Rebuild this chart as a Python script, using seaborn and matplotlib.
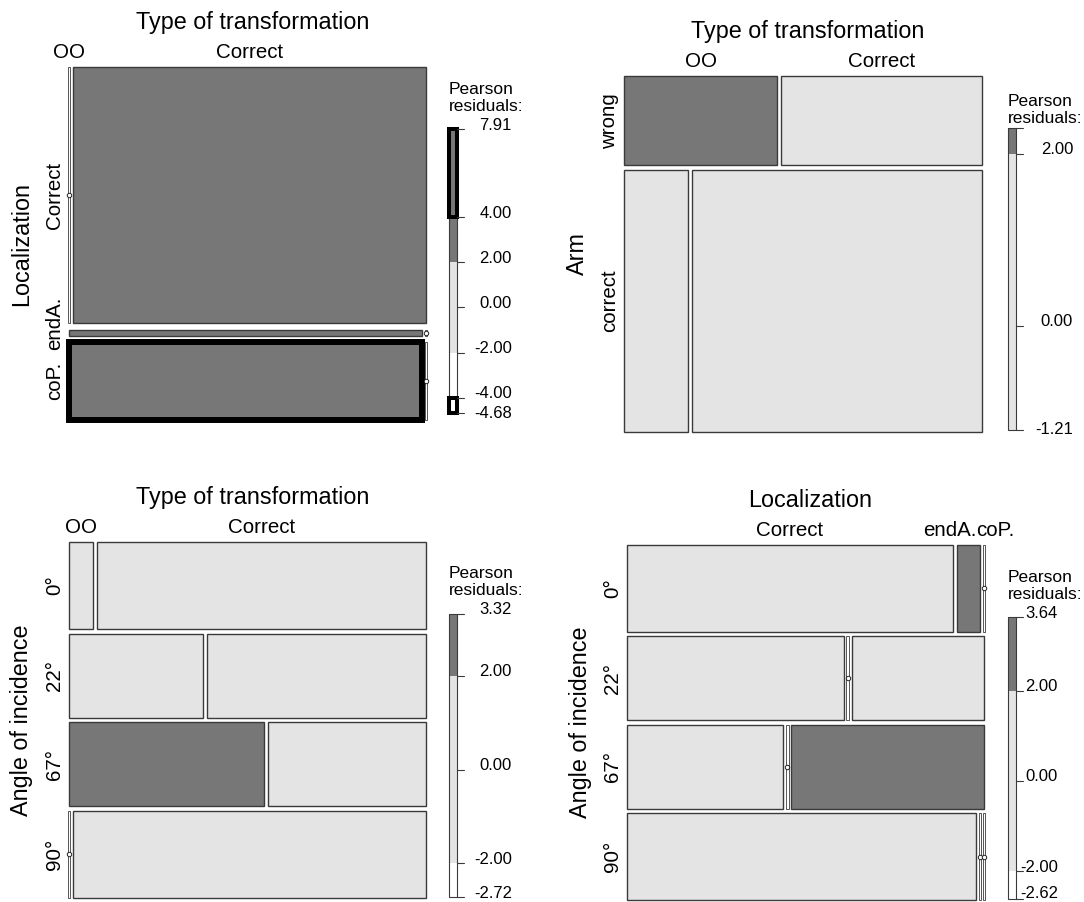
import matplotlib
matplotlib.use("Agg")
import matplotlib.pyplot as plt
import numpy as np
import seaborn as sns

sns.set_theme(style="white")
plt.rcParams["font.family"] = ["Liberation Sans", "DejaVu Sans"]
plt.rcParams["text.color"] = "black"

W, H = 1084, 902

DARK = "#777777"
LIGHT = "#e4e4e4"
EDGE = "#3a3a3a"
BREAKS = [-4, -2, 2, 4]

# categories
type_levels = ["OO", "Correct"]
loc_levels = ["Correct", "endA.", "coP."]
angle_levels = ["0°", "22°", "67°", "90°"]
arm_levels = ["wrong", "correct"]

# counts: rows x columns
loc_by_type = [[0, 89], [2, 0], [27, 0]]
arm_by_type = [[13, 17], [16, 72]]
angle_by_type = [[2, 28], [11, 18], [16, 13], [0, 30]]
angle_by_loc = [[28, 2, 0], [18, 0, 11], [13, 0, 16], [30, 0, 0]]

# legend tick labels as printed
legend_ticks_1 = [7.91, 4.00, 2.00, 0.00, -2.00, -4.00, -4.68]
legend_ticks_2 = [2.00, 0.00, -1.21]
legend_ticks_3 = [3.32, 2.00, 0.00, -2.00, -2.72]
legend_ticks_4 = [3.64, 2.00, 0.00, -2.00, -2.62]
legend_top_2 = 2.30


def px2fig(x0, y0, x1, y1):
    return [x0 / W, 1 - y1 / H, (x1 - x0) / W, (y1 - y0) / H]


def shade(r):
    if r > 2:
        fill = DARK
    elif r >= -2:
        fill = LIGHT
    else:
        fill = "white"
    return fill, abs(r) > 4


def mosaic(fig, counts, rows, cols, title, ylabel, box, gap_x=4.0, gap_y=4.5):
    x0, y0, x1, y1 = box
    pw, ph = x1 - x0, y1 - y0
    ax = fig.add_axes(px2fig(*box))
    ax.set_xlim(0, pw)
    ax.set_ylim(ph, 0)
    ax.axis("off")

    n = np.asarray(counts, float)
    N = n.sum()
    rt, ct = n.sum(1), n.sum(0)
    expct = np.outer(rt, ct) / N
    res = (n - expct) / np.sqrt(expct)

    heights = (ph - gap_y * (len(rows) - 1)) * rt / N
    tops = np.concatenate([[0], np.cumsum(heights + gap_y)[:-1]])
    col_pos = None
    row_labs = []
    for i, (top, h) in enumerate(zip(tops, heights)):
        widths = (pw - gap_x * (len(cols) - 1)) * n[i] / rt[i]
        lefts = np.concatenate([[0], np.cumsum(widths + gap_x)[:-1]])
        if i == 0:
            col_pos = lefts + widths / 2
        for j, (l, w) in enumerate(zip(lefts, widths)):
            if n[i, j] > 0:
                fill, thick = shade(res[i, j])
                ax.bar(l, h, width=w, bottom=top, align="edge", color=fill,
                       edgecolor="black" if thick else EDGE,
                       linewidth=4.3 if thick else 1.0, clip_on=False)
            else:
                ax.bar(l - 1.3, h, width=2.6, bottom=top, align="edge",
                       color="white", edgecolor=EDGE, linewidth=0.6, clip_on=False)
                ax.plot(l, top + h / 2, "o", ms=3.2, mfc="white", mec="#222222",
                        mew=0.7, clip_on=False)
        row_labs.append(ax.text(-5, top + h / 2, rows[i], rotation=90, ha="right",
                                va="center", fontsize=14.8))

    labs = [ax.text(x, -5, c, ha="center", va="bottom", fontsize=14.8)
            for x, c in zip(col_pos, cols)]

    renderer = fig.canvas.get_renderer()
    # push apart column labels that collide
    for k in range(len(labs) - 1):
        a = labs[k].get_window_extent(renderer)
        b = labs[k + 1].get_window_extent(renderer)
        if a.x1 > b.x0:
            mid = (col_pos[k] + col_pos[k + 1]) / 2
            labs[k].set_x(mid)
            labs[k].set_ha("right")
            labs[k + 1].set_x(mid)
            labs[k + 1].set_ha("left")
    # keep a little room between crowded row labels
    for k in range(len(row_labs) - 2, -1, -1):
        a = row_labs[k].get_window_extent(renderer)
        b = row_labs[k + 1].get_window_extent(renderer)
        room = a.y0 - b.y1  # display y grows upward
        if room < 12:
            x, y = row_labs[k].get_position()
            row_labs[k].set_y(y - (12 - room))

    ax.text(pw / 2 + 5, -45, title, ha="center", va="center", fontsize=16.8)
    ax.text(-47, ph / 2, ylabel, rotation=90, ha="center", va="center", fontsize=16.8)


def legend(fig, ticks, bar, lab_right, pear_y, top=None):
    bx0, by0, bx1, by1 = bar
    bw = bx1 - bx0
    vmax = top if top is not None else max(ticks)
    vmin = min(ticks)
    per_px = (vmax - vmin) / (by1 - by0)
    lax = fig.add_axes(px2fig(*bar))
    lax.set_xlim(0, bw)
    lax.set_ylim(vmin, vmax)
    lax.axis("off")

    edges = [vmin] + [b for b in BREAKS if vmin < b < vmax] + [vmax]
    segs = list(zip(edges[:-1], edges[1:]))
    for lo, hi in segs:
        fill, _ = shade((lo + hi) / 2)
        lax.bar(0, hi - lo, width=bw, bottom=lo, align="edge", color=fill, linewidth=0)
    lax.bar(0, vmax - vmin, width=bw, bottom=vmin, align="edge", fill=False,
            edgecolor=EDGE, linewidth=0.8, clip_on=False)
    for lo, hi in segs:
        fill, thick = shade((lo + hi) / 2)
        if thick:
            lax.bar(0, hi - lo, width=bw, bottom=lo, align="edge", color=fill,
                    edgecolor="black", linewidth=2.9, clip_on=False)

    for v in sorted(set(ticks + [vmin, vmax])):
        lax.plot([bw, bw + 7], [v, v], color=EDGE, lw=0.8, clip_on=False)
    for v in ticks:
        if v == vmin:
            # keep the lowest label inside the figure
            y = v + max(0, by1 - (H - 9)) * per_px
        else:
            y = v + 4 * per_px
        lax.text(lab_right - bx0, y, f"{v:.2f}", ha="right", va="center", fontsize=12)

    fig.text(bx0 / W, 1 - pear_y / H, "Pearson", ha="left", va="center", fontsize=12.5)
    fig.text(bx0 / W, 1 - (pear_y + 16.5) / H, "residuals:", ha="left", va="center",
             fontsize=12.5)


fig = plt.figure(figsize=(W / 100, H / 100), dpi=100)
fig.patch.set_facecolor("white")

mosaic(fig, loc_by_type, loc_levels, type_levels, "Type of transformation",
       "Localization", (69, 67, 426, 420), gap_y=6.5)
legend(fig, legend_ticks_1, (449, 129, 457, 413), 512, 90)

mosaic(fig, arm_by_type, arm_levels, type_levels, "Type of transformation",
       "Arm", (624, 76, 982, 432))
legend(fig, legend_ticks_2, (1008, 128, 1016, 430), 1073, 102, top=legend_top_2)

mosaic(fig, angle_by_type, angle_levels, type_levels, "Type of transformation",
       "Angle of incidence", (69, 542, 426, 898))
legend(fig, legend_ticks_3, (449, 614, 457, 897), 512, 574)

mosaic(fig, angle_by_loc, angle_levels, loc_levels, "Localization",
       "Angle of incidence", (627, 545, 984, 900))
legend(fig, legend_ticks_4, (1008, 617, 1016, 899), 1058, 578)

fig.savefig("out.png", dpi=100)
